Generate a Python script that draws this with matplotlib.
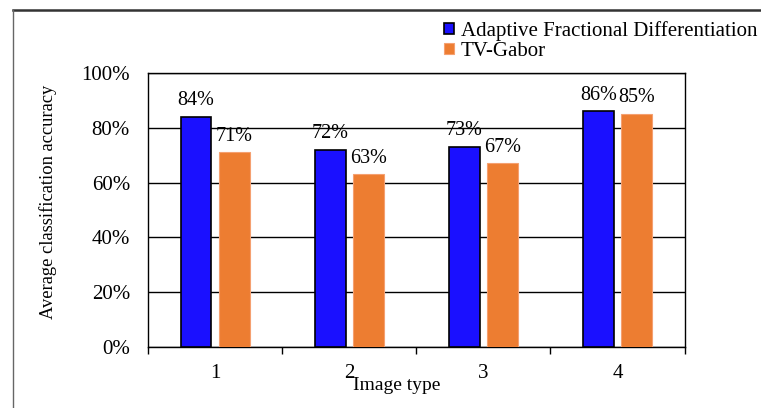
import matplotlib
matplotlib.use("Agg")
import matplotlib.pyplot as plt
from matplotlib.lines import Line2D
import numpy as np

plt.rcParams['font.family'] = ['Liberation Serif', 'DejaVu Serif']

image_types = ["1", "2", "3", "4"]
afd_acc = [0.84, 0.72, 0.73, 0.86]
gabor_acc = [0.71, 0.63, 0.67, 0.85]
series_names = ["Adaptive Fractional Differentiation", "TV-Gabor"]

W, H = 761, 408
fig = plt.figure(figsize=(W / 100, H / 100), dpi=100)

# outer frame, only top and left edges show
fig.add_artist(Line2D([12.5 / W, 1.0], [1 - 10 / H, 1 - 10 / H], color="#333333", lw=1.8))
fig.add_artist(Line2D([12.5 / W, 12.5 / W], [0, 1 - 10 / H], color="#666666", lw=1.0))

ax = fig.add_axes([148 / W, 1 - 347 / H, (684.5 - 148) / W, (347 - 73) / H])

x = np.arange(len(image_types))
w = 0.23
off = 0.142
b1 = ax.bar(x - off, afd_acc, w, color="#1A10FF", edgecolor="black", lw=1.2,
            label=series_names[0], zorder=3)
b2 = ax.bar(x + off, gabor_acc, w, color="#ED7D31", edgecolor="#F5A070", lw=0.8,
            label=series_names[1], zorder=3)

for bars, vals in ((b1, afd_acc), (b2, gabor_acc)):
    for r, v in zip(bars, vals):
        ax.annotate("%d%%" % round(v * 100), (r.get_x() + r.get_width() / 2, v),
                    xytext=(0, 8.5), textcoords="offset points",
                    ha="center", va="baseline", fontsize=14.5)

ax.set_ylim(0, 1.0)
ax.set_xlim(-0.5, len(image_types) - 0.5)
ax.set_yticks(np.arange(0, 1.01, 0.2))
ax.set_yticklabels(["%d%%" % round(t * 100) for t in np.arange(0, 1.01, 0.2)])
ax.yaxis.grid(True, color="black", lw=1.0, zorder=0)
ax.tick_params(axis="y", length=0, pad=13, labelsize=15)

# category boundaries get the tick marks, labels sit at centres
ax.set_xticks(np.arange(-0.5, len(image_types), 1.0))
ax.set_xticklabels([])
ax.set_xticks(x, minor=True)
ax.set_xticklabels(image_types, minor=True)
ax.tick_params(axis="x", which="major", length=5, width=1.0, direction="out")
ax.tick_params(axis="x", which="minor", length=0, pad=12, labelsize=15)

for s in ax.spines.values():
    s.set_color("black")
    s.set_linewidth(1.0)

fig.text(397 / W, 1 - 386 / H, "Image type", ha="center", va="center", fontsize=14)
fig.text(48 / W, 1 - 202 / H, "Average classification accuracy", rotation=90,
         ha="center", va="center", fontsize=13.3)

fig.legend(handles=[b1, b2], loc="upper left", bbox_to_anchor=(444 / W, 1 - 21 / H),
           frameon=False, fontsize=15, handlelength=0.5, handleheight=0.5,
           handletextpad=0.3, labelspacing=0.05, borderpad=0, borderaxespad=0)

fig.savefig("out.png", dpi=100)
